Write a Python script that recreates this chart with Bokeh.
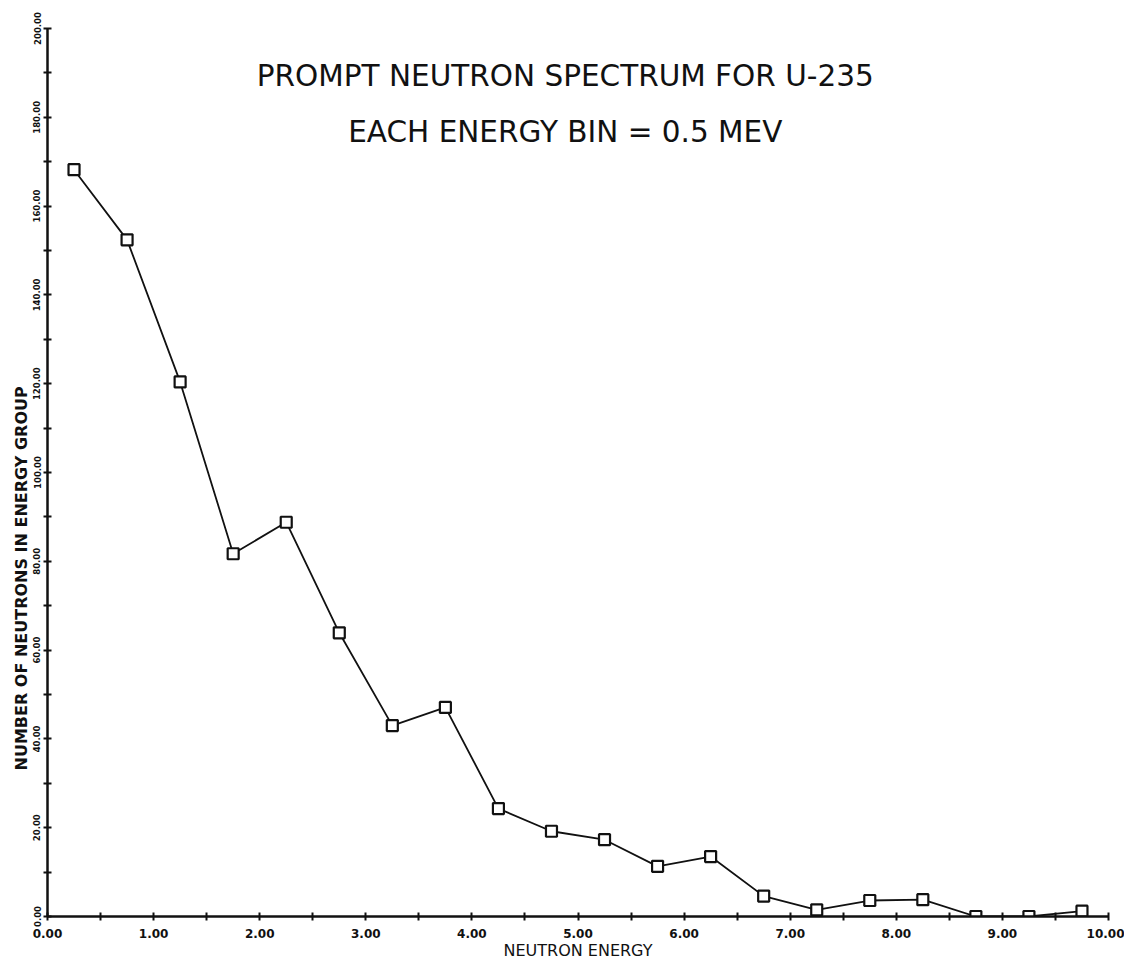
from bokeh.plotting import figure
from bokeh.models import FixedTicker, PrintfTickFormatter, Label, Range1d, ColumnDataSource, Title
from bokeh.embed import file_html
from bokeh.resources import INLINE

# Data: neutron energy bin centres (MeV) and counts per 0.5 MeV bin
energy = [0.25, 0.75, 1.25, 1.75, 2.25, 2.75, 3.25, 3.75, 4.25, 4.75,
          5.25, 5.75, 6.25, 6.75, 7.25, 7.75, 8.25, 8.75, 9.25, 9.75]
counts = [168.2, 152.4, 120.4, 81.7, 88.8, 63.9, 43.0, 47.1, 24.3, 19.2,
          17.3, 11.3, 13.5, 4.6, 1.5, 3.6, 3.8, 0.0, 0.0, 1.2]

x_major = [0, 1, 2, 3, 4, 5, 6, 7, 8, 9, 10]
x_minor = [0.5, 1.5, 2.5, 3.5, 4.5, 5.5, 6.5, 7.5, 8.5, 9.5]
y_major = [0, 20, 40, 60, 80, 100, 120, 140, 160, 180, 200]
y_minor = [10, 30, 50, 70, 90, 110, 130, 150, 170, 190]

title_1 = "PROMPT NEUTRON SPECTRUM FOR U-235"
title_2 = "EACH ENERGY BIN = 0.5 MEV"
x_title = "NEUTRON ENERGY"
y_title = "NUMBER OF NEUTRONS IN ENERGY GROUP"

src = ColumnDataSource(dict(x=energy, y=counts))

p = figure(frame_width=1061, frame_height=888,
           x_range=Range1d(0, 10), y_range=Range1d(0, 200),
           output_backend="svg", toolbar_location=None,
           min_border_left=47, min_border_right=16,
           min_border_top=28, min_border_bottom=45)
p.outline_line_color = None
p.xgrid.visible = False
p.ygrid.visible = False
p.background_fill_color = "white"
p.border_fill_color = "white"

ink = "#111111"

# X axis
xa = p.xaxis[0]
xa.ticker = FixedTicker(ticks=x_major, minor_ticks=x_minor)
xa.formatter = PrintfTickFormatter(format="%.2f")
xa.axis_line_width = 2.5
xa.axis_line_color = ink
xa.major_tick_in = 4
xa.major_tick_out = 4
xa.minor_tick_in = 4
xa.minor_tick_out = 4
xa.major_tick_line_width = 2
xa.minor_tick_line_width = 2
xa.major_tick_line_color = ink
xa.minor_tick_line_color = ink
xa.major_label_text_font = "DejaVu Sans"
xa.major_label_text_font_style = "bold"
xa.major_label_text_font_size = "12px"
xa.major_label_text_color = ink
xa.major_label_standoff = 8
xa.axis_label = x_title
xa.axis_label_text_font = "DejaVu Sans"
xa.axis_label_text_font_style = "normal"
xa.axis_label_text_font_size = "16px"
xa.axis_label_text_color = ink
xa.axis_label_standoff = 0

# Y axis
ya = p.yaxis[0]
ya.ticker = FixedTicker(ticks=y_major, minor_ticks=y_minor)
ya.formatter = PrintfTickFormatter(format="%.2f")
ya.axis_line_width = 2.5
ya.axis_line_color = ink
ya.major_tick_in = 4
ya.major_tick_out = 4
ya.minor_tick_in = 4
ya.minor_tick_out = 4
ya.major_tick_line_width = 2
ya.minor_tick_line_width = 2
ya.major_tick_line_color = ink
ya.minor_tick_line_color = ink
ya.major_label_orientation = "vertical"
ya.major_label_text_font = "DejaVu Sans"
ya.major_label_text_font_style = "bold"
ya.major_label_text_font_size = "8.5px"
ya.major_label_text_color = ink
ya.major_label_standoff = 3

# Y axis title, offset toward the bottom like the original
p.add_layout(Title(text=y_title, align="left", offset=146,
                   text_font="DejaVu Sans", text_font_style="bold",
                   text_font_size="16px", text_color=ink, standoff=0), "left")

# Data line and markers
p.line("x", "y", source=src, line_color=ink, line_width=1.8)
p.scatter("x", "y", source=src, marker="square", size=11,
          line_color=ink, line_width=2.2, fill_color="white")

# Titles inside the frame
p.add_layout(Label(x=4.88, y=189.4, text=title_1, text_align="center",
                   text_baseline="middle", text_font="DejaVu Sans",
                   text_font_size="29.5px", text_color=ink))
p.add_layout(Label(x=4.88, y=176.6, text=title_2, text_align="center",
                   text_baseline="middle", text_font="DejaVu Sans",
                   text_font_size="29.5px", text_color=ink))

open("out.html", "w").write(file_html(p, INLINE))
